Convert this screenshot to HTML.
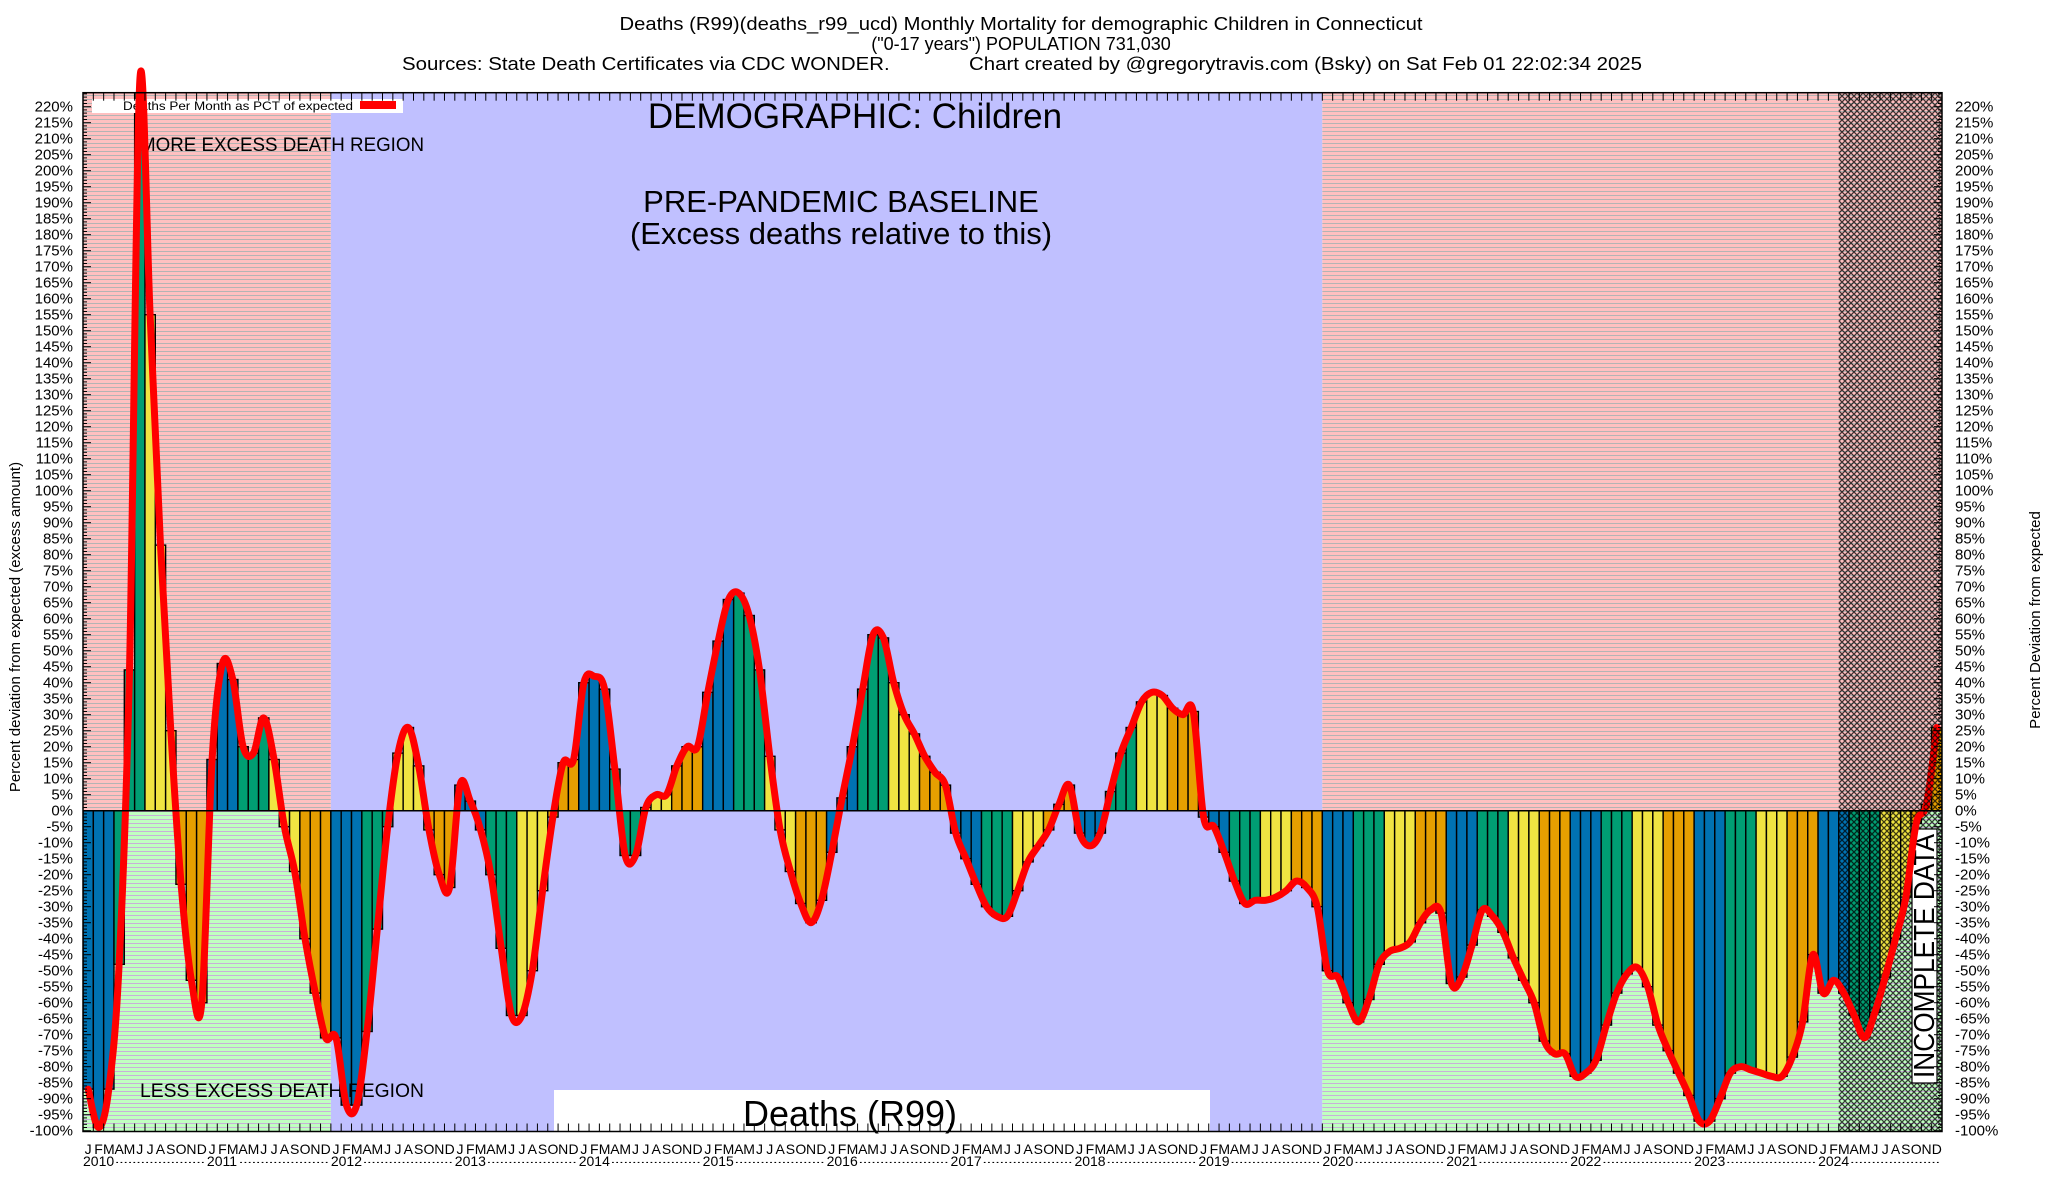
<!DOCTYPE html>
<html><head><meta charset="utf-8"><style>
html,body{margin:0;padding:0;background:#fff}
svg{display:block;font-family:"Liberation Sans",Arial,sans-serif}
</style></head><body>
<svg id="chart" width="2048" height="1200" viewBox="0 0 2048 1200" xmlns="http://www.w3.org/2000/svg">
<defs>
<pattern id="pinkStripe" width="8" height="4" patternUnits="userSpaceOnUse"><rect width="8" height="4" fill="#ffc0c0"/><rect y="3" width="8" height="1" fill="#b4b4b4"/></pattern>
<pattern id="greenStripe" width="8" height="4" patternUnits="userSpaceOnUse"><rect width="8" height="4" fill="#c0ffc0"/><rect y="3" width="8" height="1" fill="#c8b0d8"/></pattern>
<pattern id="hatch" width="6" height="6" patternUnits="userSpaceOnUse"><path d="M0,0L6,6M6,0L0,6" stroke="#000" stroke-width="1.3" opacity="0.75"/></pattern>
<clipPath id="plotClip"><rect x="83" y="92.7" width="1859" height="1039"/></clipPath>
</defs>
<g id="titles" font-size="18" text-anchor="middle">
<text x="1021" y="30" textLength="803" lengthAdjust="spacingAndGlyphs">Deaths (R99)(deaths_r99_ucd) Monthly Mortality for demographic Children in Connecticut</text>
<text x="1021" y="50">("0-17 years") POPULATION 731,030</text>
<text x="1022" y="70" textLength="1240" lengthAdjust="spacingAndGlyphs" xml:space="preserve">Sources: State Death Certificates via CDC WONDER.              Chart created by @gregorytravis.com (Bsky) on Sat Feb 01 22:02:34 2025</text>
</g>
<g id="bg"></g>
<g id="bars" clip-path="url(#plotClip)"></g>
<g id="hatchLayer"></g>
<g id="annot"></g>
<g id="lineLayer"></g>
<g id="axes"></g>
</svg>
<script>
const years=["2010","2011","2012","2013","2014","2015","2016","2017","2018","2019","2020","2021","2022","2023","2024"];
const monthLetters=["J","F","M","A","M","J","J","A","S","O","N","D"];
const pctValues=[
-87,-99,-87,-48,44,228,155,83,25,-23,-53,-60,
16,46,41,20,18,29,16,-5,-19,-40,-57,-71,
-71,-92,-92,-69,-37,-5,18,26,14,-6,-20,-24,
8,3,-6,-20,-43,-64,-64,-50,-25,-2,15,16,
40,42,38,13,-14,-14,1,5,5,14,20,20,
37,53,66,68,61,44,17,-6,-19,-29,-35,-28,
-13,4,20,38,55,54,40,30,24,17,12,8,
-7,-15,-23,-30,-33,-33,-25,-16,-11,-6,2,8,
-7,-11,-7,6,18,26,34,37,36,32,30,31,
-2,-5,-13,-22,-29,-28,-28,-27,-25,-22,-24,-30,
-50,-52,-60,-66,-59,-48,-44,-43,-41,-35,-31,-32,
-54,-52,-42,-31,-33,-38,-46,-53,-60,-72,-76,-76,
-83,-82,-78,-67,-57,-51,-49,-55,-67,-75,-82,-89,
-97,-97,-90,-82,-80,-81,-82,-83,-83,-77,-66,-45,
-57,-53,-57,-64,-71,-63,-52,-40,-27,-4,2,26];
const yTicks=[];for(let v=-100;v<=220;v+=5)yTicks.push(v);
const seasonColors=["#0072b2","#009e73","#f0e442","#e69f00"];

const NS="http://www.w3.org/2000/svg";
const X0=83,X1=1942,YT=92.7,YB=1131.5;
const N=pctValues.length, MW=(X1-X0)/180;
function xs(i){return X0+i*MW;}
function ys(v){return 810.7-v*3.2;}
function mk(tag,attrs,parent){const e=document.createElementNS(NS,tag);for(const k in attrs)e.setAttribute(k,attrs[k]);parent.appendChild(e);return e;}

// backgrounds
const bg=document.getElementById('bg');
function region(m0,m1,name,type){
  if(type==='blue'){const r=mk('rect',{x:xs(m0),y:YT,width:xs(m1)-xs(m0),height:YB-YT,fill:'#c0c0ff'},bg);
    
    return;}
  const a=mk('rect',{x:xs(m0),y:YT,width:xs(m1)-xs(m0),height:ys(0)-YT,fill:'url(#pinkStripe)'},bg);
  
  
  const b=mk('rect',{x:xs(m0),y:ys(0),width:xs(m1)-xs(m0),height:YB-ys(0),fill:'url(#greenStripe)'},bg);
  
  
}
region(0,24,'region-2010-2011','split');
region(24,120,'baseline-region','blue');
region(120,180,'region-2020-2024','split');

// bars
const bars=document.getElementById('bars');
pctValues.forEach((v,i)=>{
  const y0=ys(0),y1=ys(v);
  const r=mk('rect',{x:xs(i),y:Math.min(y0,y1),width:MW,height:Math.abs(y1-y0),fill:seasonColors[Math.floor((i%12)/3)],stroke:'#000','stroke-width':1.4},bars);
  
  
});

// zero line
const ax=document.getElementById('axes');
mk('line',{x1:X0,x2:X1,y1:ys(0),y2:ys(0),stroke:'#000','stroke-width':1.5},ax);

// annotations
const an=document.getElementById('annot');
function txt(s,attrs,name,parent){const t=mk('text',attrs,parent||an);t.textContent=s;return t;}
const lg=mk('g',{},an);


mk('rect',{x:92,y:99,width:311,height:14,fill:'#fff'},lg);
txt('Deaths Per Month as PCT of expected',{x:123,y:110,'font-size':12,textLength:230,lengthAdjust:'spacingAndGlyphs'},'legend-label',lg);
mk('rect',{x:360,y:101,width:36,height:8,fill:'#ff0000'},lg);
txt('MORE EXCESS DEATH REGION',{x:140,y:151,'font-size':19,textLength:284,lengthAdjust:'spacingAndGlyphs'},'more-excess-label');
txt('DEMOGRAPHIC: Children',{x:855,y:128,'font-size':35,'text-anchor':'middle'},'demographic-label');
txt('PRE-PANDEMIC BASELINE',{x:841,y:212,'font-size':31,'text-anchor':'middle'},'baseline-label');
txt('(Excess deaths relative to this)',{x:841,y:244,'font-size':31,'text-anchor':'middle'},'baseline-sublabel');
const box=mk('rect',{x:554,y:1090,width:656,height:41,fill:'#fff'},an);


txt('Deaths (R99)',{x:850,y:1126,'font-size':36,'text-anchor':'middle'},'series-label');

// hatch for incomplete
const hl=document.getElementById('hatchLayer');
const hr=mk('rect',{x:xs(170),y:YT,width:X1-xs(170),height:YB-YT,fill:'url(#hatch)'},hl);



// less label drawn after bars
txt('LESS EXCESS DEATH REGION',{x:140,y:1097,'font-size':19,textLength:284,lengthAdjust:'spacingAndGlyphs'},'less-excess-label');

// red smoothed line
const pts=pctValues.map((v,i)=>[xs(i)+MW/2,ys(v)]);
let d='M'+pts[0][0].toFixed(1)+','+pts[0][1].toFixed(1);
for(let i=0;i<pts.length-1;i++){
  const p0=pts[Math.max(0,i-1)],p1=pts[i],p2=pts[i+1],p3=pts[Math.min(pts.length-1,i+2)];
  const c1=[p1[0]+(p2[0]-p0[0])/6,p1[1]+(p2[1]-p0[1])/6];
  const c2=[p2[0]-(p3[0]-p1[0])/6,p2[1]-(p3[1]-p1[1])/6];
  d+=' C'+c1[0].toFixed(1)+','+c1[1].toFixed(1)+' '+c2[0].toFixed(1)+','+c2[1].toFixed(1)+' '+p2[0].toFixed(1)+','+p2[1].toFixed(1);
}
const ll=document.getElementById('lineLayer');
const line=mk('path',{d:d,fill:'none',stroke:'#ff0000','stroke-width':7,'stroke-linejoin':'round','stroke-linecap':'round'},ll);


const lh=mk('path',{d:d,fill:'none',stroke:'url(#hatch)','stroke-width':7},ll);
lh.setAttribute('clip-path','');
lh.style.clipPath='inset(0 0 0 '+xs(170)+'px)';



// incomplete data box
const ib=mk('rect',{x:1912,y:829,width:25,height:254,fill:'#fff',stroke:'#000','stroke-width':1.2},an);


txt('INCOMPLETE DATA',{x:0,y:0,'font-size':29,'text-anchor':'middle',transform:'translate(1934,956) rotate(-90)',textLength:244,lengthAdjust:'spacingAndGlyphs'},'incomplete-data-label');

// frame
mk('rect',{x:X0,y:YT,width:X1-X0,height:YB-YT,fill:'none',stroke:'#000','stroke-width':1.5},ax);
// y ticks
for(let v=-100;v<=224;v++){
  const y=ys(v),len=(v%5===0)?8:4;
  mk('line',{x1:X0,x2:X0+len,y1:y,y2:y,stroke:'#000','stroke-width':1},ax);
  mk('line',{x1:X1,x2:X1-len,y1:y,y2:y,stroke:'#000','stroke-width':1},ax);
}
yTicks.forEach(v=>{
  txt(v+'%',{x:73,y:ys(v)+5,'font-size':15,'text-anchor':'end'},'y-tick-left',ax);
  txt(v+'%',{x:1955,y:ys(v)+5,'font-size':15},'y-tick-right',ax);
});
// x ticks and labels
for(let i=0;i<=N;i++){
  mk('line',{x1:xs(i),x2:xs(i),y1:YB,y2:YB-8,stroke:'#000','stroke-width':1},ax);
  mk('line',{x1:xs(i),x2:xs(i),y1:YT,y2:YT+8,stroke:'#000','stroke-width':1},ax);
}
for(let i=0;i<N;i++){
  txt(monthLetters[i%12],{x:xs(i)+MW/2,y:1154,'font-size':14,'text-anchor':'middle'},'x-month-label',ax);
}
years.forEach((yr,k)=>{
  const x=xs(k*12);
  txt(yr,{x:x,y:1166,'font-size':14},'x-year-label',ax);
  txt('- - - - - - - - - - - - - - - - - - - - -',{x:x+33,y:1166,'font-size':14,textLength:MW*12-36,lengthAdjust:'spacingAndGlyphs'},'x-year-dashes',ax);
});
// axis titles
txt('Percent deviation from expected (excess amount)',{x:0,y:0,'font-size':15,'text-anchor':'middle',transform:'translate(20,627) rotate(-90)'},'y-axis-title-left',ax);
txt('Percent Deviation from expected',{x:0,y:0,'font-size':15,'text-anchor':'middle',transform:'translate(2040,620) rotate(-90)'},'y-axis-title-right',ax);
</script>
</body></html>
